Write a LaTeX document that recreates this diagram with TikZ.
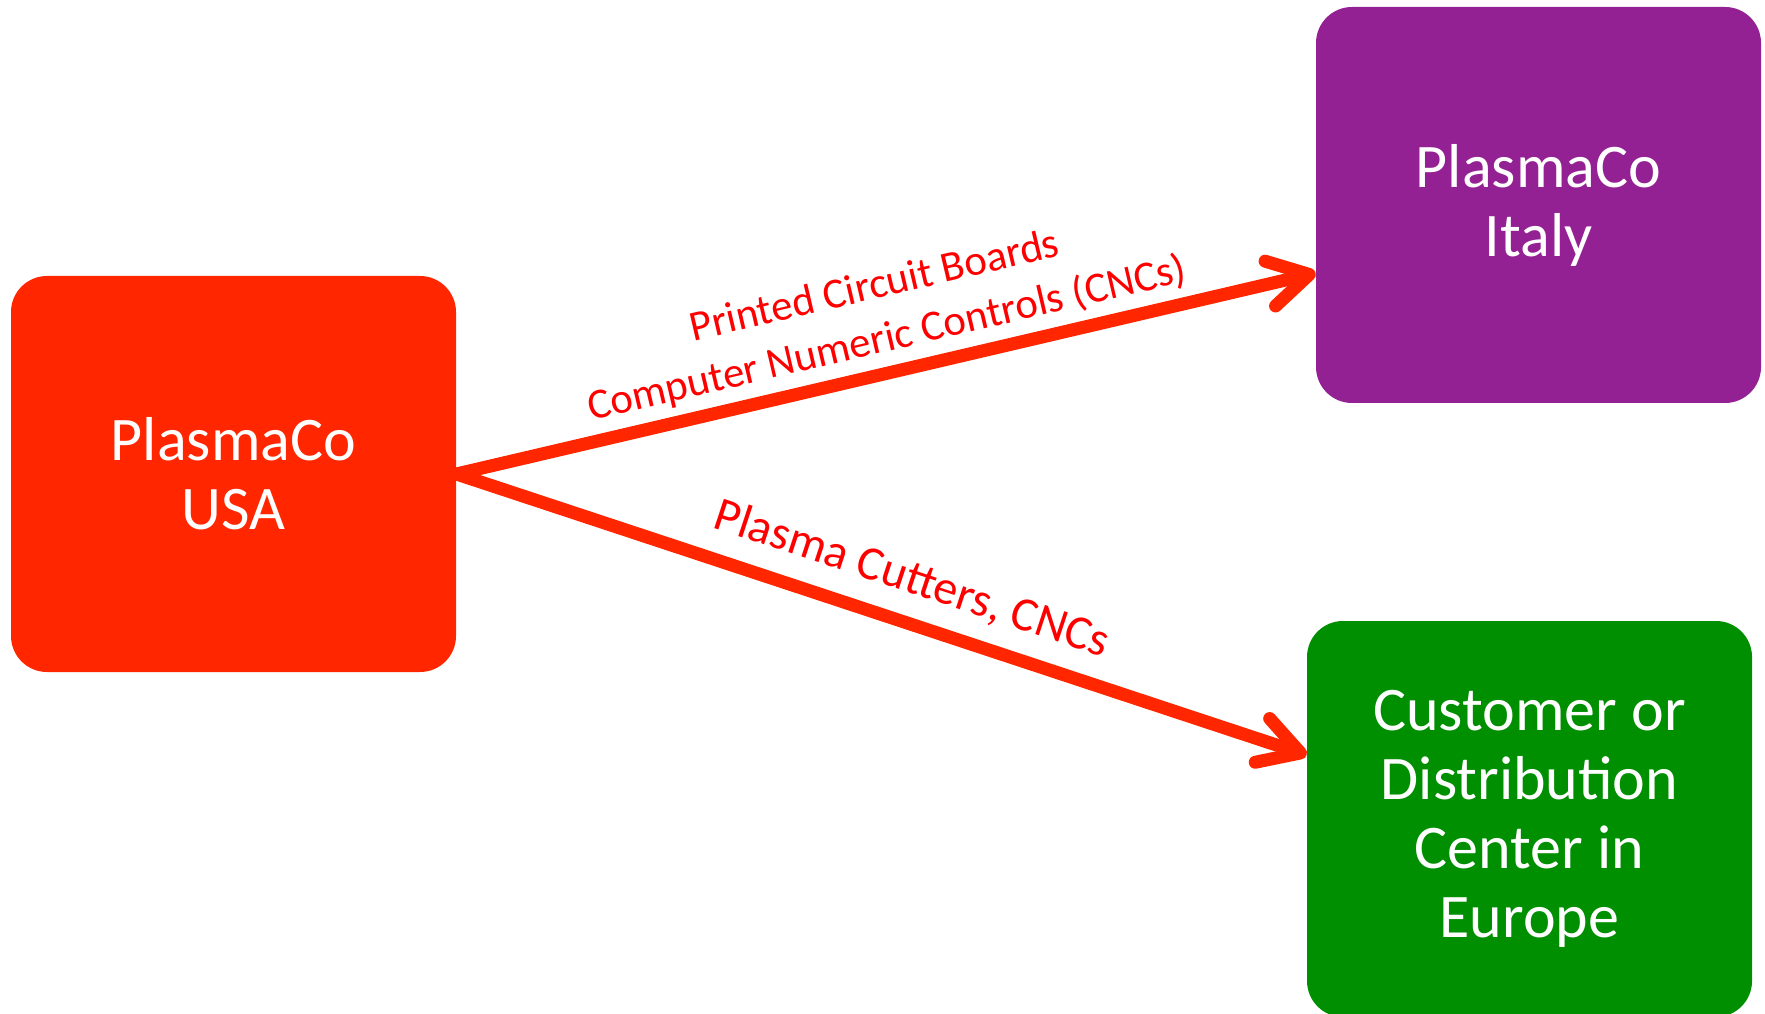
\documentclass[tikz,border=0pt]{standalone}
\usepackage{fontspec}
\setmainfont{Carlito}
\usetikzlibrary{arrows.meta, positioning}

\definecolor{usared}{RGB}{255,38,0}
\definecolor{italypurple}{RGB}{148,33,147}
\definecolor{europegreen}{RGB}{0,143,0}
\definecolor{labelred}{RGB}{255,0,0}

\begin{document}
\begin{tikzpicture}[
  x=0.5pt, y=0.5pt,
  site/.style={rounded corners=18pt, align=center, text=white, inner sep=0pt,
    minimum width=222.5pt, minimum height=198pt, font=\fontsize{31}{34.5}\selectfont},
  ship/.style={-{Straight Barb[length=20pt, width=23pt, round]}, line width=6.5pt, draw=usared,
    line cap=round, preaction={draw=black!22, transform canvas={shift={(1pt,-2pt)}}}},
  goods/.style={text=labelred, align=center, sloped}
]
\useasboundingbox (0,0) rectangle (1765,1013);

\node[site, fill=usared] (usa) at (233.5,539) {PlasmaCo\\USA};
\node[site, fill=italypurple] (italy) at (1538.5,808) {PlasmaCo\\Italy};
\node[site, fill=europegreen] (europe) at (1529.5,194) {Customer or\\Distribution\\Center in\\Europe};

\draw[ship] (usa.east) -- node[goods, pos=0.51, above=0.5pt, font=\fontsize{21.4}{27}\selectfont] {Printed Circuit Boards\\Computer Numeric Controls (CNCs)} ([yshift=-34pt]italy.west);
\draw[ship] (usa.east) -- node[goods, pos=0.52, above=5pt, font=\fontsize{24}{28}\selectfont] {Plasma Cutters, CNCs} ([yshift=32pt]europe.west);
\end{tikzpicture}
\end{document}
